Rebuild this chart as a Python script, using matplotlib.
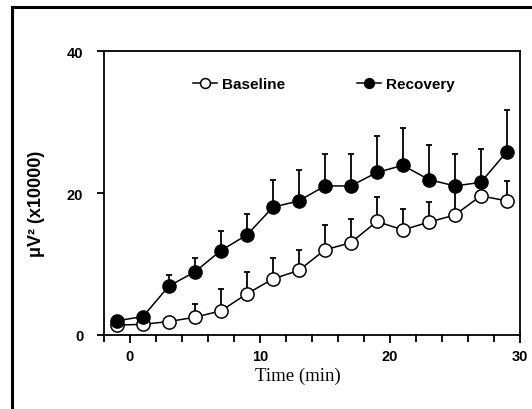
import numpy as np
import matplotlib
matplotlib.use('Agg')
import matplotlib.pyplot as plt
from matplotlib.lines import Line2D

time_min = [-1, 1, 3, 5, 7, 9, 11, 13, 15, 17, 19, 21, 23, 25, 27, 29]

baseline = [1.4, 1.5, 1.9, 2.5, 3.4, 5.8, 7.9, 9.1, 12.0, 13.0, 16.0, 14.8, 15.9, 16.9, 19.6, 18.9]
baseline_err = [0, 0, 0, 1.9, 3.1, 3.1, 3.0, 2.9, 3.5, 3.3, 3.4, 3.0, 2.9, 4.3, 2.0, 2.8]

recovery = [2.0, 2.6, 6.9, 8.9, 11.9, 14.1, 18.0, 18.9, 21.0, 21.0, 22.9, 23.9, 21.9, 21.0, 21.5, 25.8]
recovery_err = [0, 0, 1.5, 2.0, 2.7, 2.9, 3.8, 4.3, 4.5, 4.5, 5.1, 5.3, 4.8, 4.5, 4.7, 5.9]

fig = plt.figure(figsize=(5.32, 4.10), dpi=100)
ax = fig.add_axes([0.1955, 0.1805, 0.7815, 0.6925])

zeros = np.zeros(len(time_min))

# baseline first so recovery markers sit on top
ax.errorbar(time_min, baseline, yerr=[zeros, baseline_err], fmt='none',
            ecolor='black', elinewidth=1.3, capsize=2.5, capthick=1.3, zorder=2)
ax.plot(time_min, baseline, '-o', color='black', lw=1.1, ms=9.5,
        mfc='white', mec='black', mew=1.1, zorder=3, label='Baseline')

ax.errorbar(time_min, recovery, yerr=[zeros, recovery_err], fmt='none',
            ecolor='black', elinewidth=1.3, capsize=2.5, capthick=1.3, zorder=4)
ax.plot(time_min, recovery, '-o', color='black', lw=1.1, ms=9.5,
        mfc='black', mec='black', zorder=5, label='Recovery')

ax.set_xlim(-2, 30)
ax.set_ylim(0, 40)
ax.set_xticks([0, 10, 20, 30])
ax.set_xticks(np.arange(-2, 31, 2), minor=True)
ax.set_yticks([0, 20, 40])

ax.tick_params(axis='both', which='both', direction='out', width=1.3, color='black')
ax.tick_params(axis='x', which='major', length=6, pad=4)
ax.tick_params(axis='x', which='minor', length=5)
ax.tick_params(axis='y', which='major', length=5, pad=10)
for lab in ax.get_xticklabels() + ax.get_yticklabels():
    lab.set_fontfamily('Liberation Sans')
    lab.set_fontweight('bold')
    lab.set_fontsize(10.5)

for sp in ax.spines.values():
    sp.set_linewidth(1.3)

ax.set_xlabel('Time (min)', fontfamily='Liberation Serif', fontsize=13.5)
ax.xaxis.set_label_coords(0.466, -0.11)
ax.set_ylabel('μV² (x10000)', fontfamily='Liberation Sans', fontweight='bold',
              fontsize=13)
ax.yaxis.set_label_coords(-0.142, 0.465)

ax.legend(loc='center left', bbox_to_anchor=(0.214, 0.884), ncol=2, frameon=False,
          borderpad=0, borderaxespad=0,
          handlelength=1.6, handletextpad=0.3, columnspacing=4.7, markerscale=0.75,
          prop={'family': 'Liberation Sans', 'weight': 'bold', 'size': 11})

# outer frame of the scanned figure (left and top edges visible)
fig.add_artist(Line2D([12 / 532, 12 / 532], [0, 1 - 8 / 410], transform=fig.transFigure,
                      color='black', lw=2.2))
fig.add_artist(Line2D([12 / 532, 1], [1 - 8 / 410, 1 - 8 / 410], transform=fig.transFigure,
                      color='black', lw=2.2))

fig.savefig('out.png', dpi=100)
